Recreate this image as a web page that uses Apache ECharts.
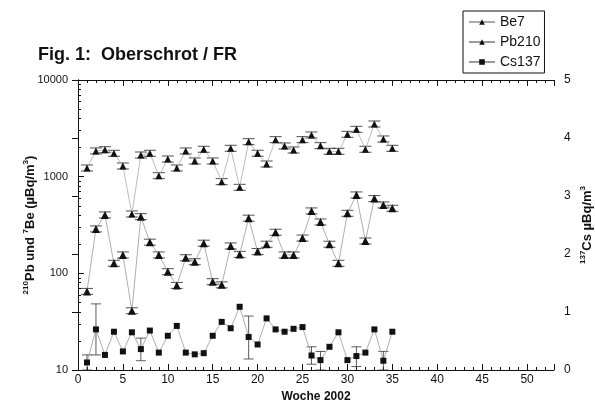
<!DOCTYPE html>
<html>
<head>
<meta charset="utf-8">
<script src="https://cdn.jsdelivr.net/npm/echarts@6/dist/echarts.min.js"></script>
<style>
  html, body { margin: 0; padding: 0; background: #fff; }
  #chart { width: 595px; height: 409px; }
</style>
</head>
<body>
<div id="chart"></div>
<script>
const weeks = [1, 2, 3, 4, 5, 6, 7, 8, 9, 10, 11, 12, 13, 14, 15, 16, 17, 18, 19, 20, 21, 22, 23, 24, 25, 26, 27, 28, 29, 30, 31, 32, 33, 34, 35]
const be7 = [1230, 1845, 1900, 1746, 1290, 411, 1675, 1746, 1024, 1523, 1230, 1845, 1453, 1920, 1453, 888, 1966, 776, 2300, 1746, 1353, 2415, 2077, 1888, 2415, 2699, 2094, 1829, 1829, 2742, 3090, 1920, 3507, 2455, 1966]
const pb210 = [65, 288, 402, 127, 155, 41, 386, 210, 155, 104, 75, 145, 132, 205, 82, 76, 192, 157, 372, 168, 200, 266, 155, 155, 232, 442, 340, 200, 127, 418, 647, 216, 593, 510, 471]
const cs137 = [0.13, 0.70, 0.26, 0.66, 0.32, 0.65, 0.36, 0.68, 0.30, 0.59, 0.76, 0.30, 0.27, 0.29, 0.59, 0.83, 0.72, 1.09, 0.57, 0.44, 0.89, 0.70, 0.66, 0.71, 0.74, 0.25, 0.17, 0.40, 0.65, 0.17, 0.24, 0.30, 0.70, 0.16, 0.66]
// Cs137 weeks with visible error bars
const csErrWeeks = [1, 2, 7, 19, 26, 27, 31, 34]
const csErrLow = [0.0, 0.26, 0.16, 0.19, 0.10, 0.0, 0.06, 0.0]
const csErrHigh = [0.26, 1.14, 0.55, 0.93, 0.40, 0.32, 0.40, 0.32]
const xTicks = [0, 5, 10, 15, 20, 25, 30, 35, 40, 45, 50]

const font = 'Arial, "Liberation Sans", sans-serif'
let myChart = echarts.init(document.getElementById('chart'))

// small caps above/below each Be7 / Pb210 point
function capItem (params, api) {
  let p = api.coord([api.value(0), api.value(1)])
  let st = {stroke: '#222', lineWidth: 0.8}
  return {
    type: 'group',
    children: [
      {type: 'line', shape: {x1: p[0] - 6, y1: p[1] - 3, x2: p[0] + 6, y2: p[1] - 3}, style: st},
      {type: 'line', shape: {x1: p[0] - 6, y1: p[1] + 3, x2: p[0] + 6, y2: p[1] + 3}, style: st}
    ]
  }
}

function errItem (params, api) {
  let lo = api.coord([api.value(0), api.value(1)])
  let hi = api.coord([api.value(0), api.value(2)])
  let st = {stroke: '#333', lineWidth: 0.8}
  return {
    type: 'group',
    children: [
      {type: 'line', shape: {x1: lo[0], y1: lo[1], x2: hi[0], y2: hi[1]}, style: st},
      {type: 'line', shape: {x1: lo[0] - 5, y1: lo[1], x2: lo[0] + 5, y2: lo[1]}, style: st},
      {type: 'line', shape: {x1: hi[0] - 5, y1: hi[1], x2: hi[0] + 5, y2: hi[1]}, style: st}
    ]
  }
}

let xCommon = {
  type: 'value',
  min: 0,
  max: 53,
  interval: 5,
  splitLine: {show: false},
  axisLine: {lineStyle: {color: '#111', width: 1}},
  axisTick: {inside: true, length: 6, lineStyle: {color: '#111'}},
  minorTick: {show: true, splitNumber: 5, length: 3, lineStyle: {color: '#111'}}
}

let supRich = {
  b: {fontFamily: font, fontWeight: 'bold', fontSize: 13, color: '#111', lineHeight: 16},
  s: {fontFamily: font, fontWeight: 'bold', fontSize: 8, color: '#111', verticalAlign: 'top', lineHeight: 16}
}

let option = {
  animation: false,
  backgroundColor: '#fff',
  title: {
    text: 'Fig. 1:  Oberschrot / FR',
    left: 33,
    top: 41,
    textStyle: {fontFamily: font, fontWeight: 'bold', fontSize: 18, color: '#111'}
  },
  legend: {
    data: ['Be7', 'Pb210', 'Cs137'],
    orient: 'vertical',
    left: 463,
    top: 11,
    padding: [4, 4, 4, 5],
    itemWidth: 26,
    itemHeight: 7,
    itemGap: 6,
    borderColor: '#111',
    borderWidth: 1,
    borderRadius: 0,
    textStyle: {fontFamily: font, fontSize: 14, color: '#111'}
  },
  grid: {left: 78, right: 41, top: 80, bottom: 39, containLabel: false, outerBoundsMode: 'none'},
  xAxis: [
    Object.assign({}, xCommon, {
      position: 'bottom',
      name: 'Woche 2002',
      nameLocation: 'middle',
      nameGap: 20,
      nameTextStyle: {fontFamily: font, fontWeight: 'bold', fontSize: 12, color: '#111'},
      axisLabel: {
        fontFamily: font, fontSize: 12, color: '#111', margin: 4,
        formatter: function (v) { return xTicks.indexOf(v) >= 0 ? String(v) : '' }
      }
    }),
    Object.assign({}, xCommon, {position: 'top', axisLabel: {show: false}})
  ],
  yAxis: [
    {
      type: 'log',
      logBase: 10,
      min: 10,
      max: 10000,
      position: 'left',
      splitLine: {show: false},
      axisLine: {show: true, lineStyle: {color: '#111'}},
      axisTick: {show: true, inside: true, length: 6, lineStyle: {color: '#111'}},
      minorTick: {show: true, splitNumber: 9, length: 3, lineStyle: {color: '#111'}},
      axisLabel: {
        fontFamily: font, fontSize: 11, color: '#111', margin: 10,
        formatter: function (v) { return String(Math.round(v)) }
      },
      name: '{s|210}{b|Pb und }{s|7}{b|Be (µBq/m}{s|3}{b|)}',
      nameLocation: 'middle',
      nameRotate: 90,
      nameGap: 40,
      nameMoveOverlap: false,
      nameTextStyle: {rich: supRich}
    },
    {
      type: 'value',
      min: 0,
      max: 5,
      interval: 1,
      position: 'right',
      splitLine: {show: false},
      axisLine: {show: true, lineStyle: {color: '#111'}},
      axisTick: {show: true, inside: true, length: 6, lineStyle: {color: '#111'}},
      axisLabel: {fontFamily: font, fontSize: 12, color: '#111', margin: 10},
      name: '{s|137}{b|Cs µBq/m}{s|3}',
      nameLocation: 'middle',
      nameRotate: 90,
      nameGap: 25,
      nameMoveOverlap: false,
      nameTextStyle: {rich: supRich}
    }
  ],
  series: [
    {
      name: 'Be7',
      type: 'line',
      data: weeks.map((w, i) => [w, be7[i]]),
      symbol: 'triangle',
      symbolSize: 7,
      itemStyle: {color: '#111'},
      lineStyle: {color: '#aaa', width: 0.8},
      z: 3
    },
    {
      name: 'Pb210',
      type: 'line',
      data: weeks.map((w, i) => [w, pb210[i]]),
      symbol: 'triangle',
      symbolSize: 8,
      itemStyle: {color: '#111'},
      lineStyle: {color: '#999', width: 0.8},
      z: 3
    },
    {
      name: 'Cs137',
      type: 'line',
      yAxisIndex: 1,
      data: weeks.map((w, i) => [w, cs137[i]]),
      symbol: 'rect',
      symbolSize: 6,
      itemStyle: {color: '#111'},
      lineStyle: {color: '#999', width: 0.8},
      z: 3
    },
    {
      type: 'custom',
      renderItem: capItem,
      data: weeks.map((w, i) => [w, be7[i]]),
      encode: {x: 0, y: 1},
      z: 2
    },
    {
      type: 'custom',
      renderItem: capItem,
      data: weeks.map((w, i) => [w, pb210[i]]),
      encode: {x: 0, y: 1},
      z: 2
    },
    {
      type: 'custom',
      renderItem: errItem,
      yAxisIndex: 1,
      data: csErrWeeks.map((w, i) => [w, csErrLow[i], csErrHigh[i]]),
      encode: {x: 0, y: [1, 2]},
      z: 2
    }
  ]
}
myChart.setOption(option)
</script>
</body>
</html>
